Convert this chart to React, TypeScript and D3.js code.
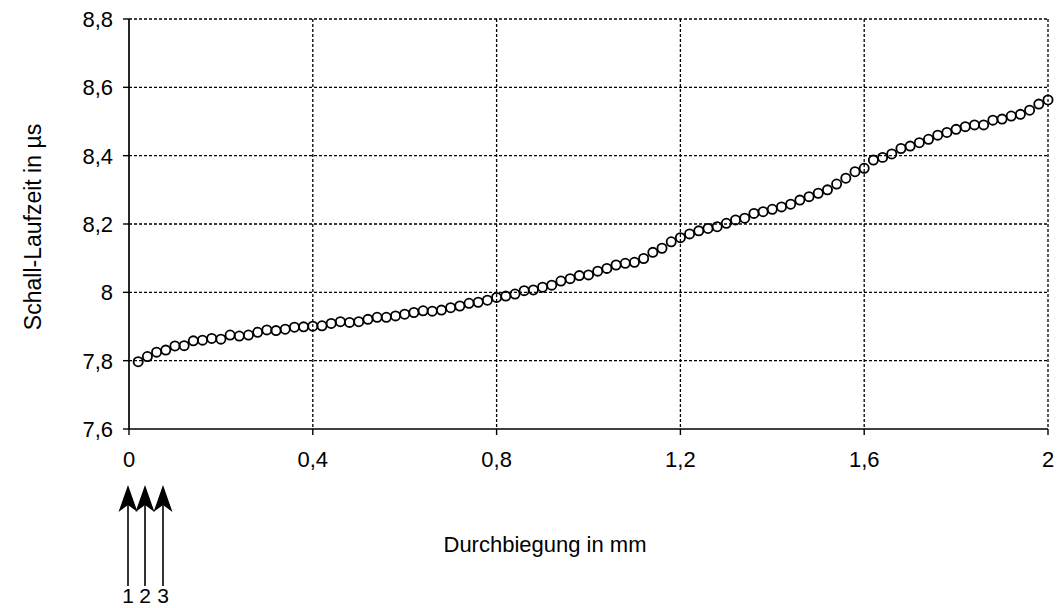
import React from "react";
import * as d3 from "d3";

// Deflection (mm) and sound travel time (µs) measurements
const deflection: number[] = [
  0.02, 0.04, 0.06, 0.08, 0.10, 0.12, 0.14, 0.16, 0.18, 0.20,
  0.22, 0.24, 0.26, 0.28, 0.30, 0.32, 0.34, 0.36, 0.38, 0.40,
  0.42, 0.44, 0.46, 0.48, 0.50, 0.52, 0.54, 0.56, 0.58, 0.60,
  0.62, 0.64, 0.66, 0.68, 0.70, 0.72, 0.74, 0.76, 0.78, 0.80,
  0.82, 0.84, 0.86, 0.88, 0.90, 0.92, 0.94, 0.96, 0.98, 1.00,
  1.02, 1.04, 1.06, 1.08, 1.10, 1.12, 1.14, 1.16, 1.18, 1.20,
  1.22, 1.24, 1.26, 1.28, 1.30, 1.32, 1.34, 1.36, 1.38, 1.40,
  1.42, 1.44, 1.46, 1.48, 1.50, 1.52, 1.54, 1.56, 1.58, 1.60,
  1.62, 1.64, 1.66, 1.68, 1.70, 1.72, 1.74, 1.76, 1.78, 1.80,
  1.82, 1.84, 1.86, 1.88, 1.90, 1.92, 1.94, 1.96, 1.98, 2.00,
];

const travelTime: number[] = [
  7.797, 7.812, 7.825, 7.831, 7.843, 7.844, 7.858, 7.860, 7.865, 7.863,
  7.875, 7.872, 7.875, 7.883, 7.890, 7.888, 7.892, 7.898, 7.899, 7.901,
  7.902, 7.909, 7.914, 7.912, 7.914, 7.921, 7.927, 7.927, 7.931, 7.936,
  7.941, 7.946, 7.945, 7.948, 7.955, 7.960, 7.968, 7.971, 7.977, 7.985,
  7.989, 7.995, 8.005, 8.007, 8.015, 8.021, 8.033, 8.040, 8.049, 8.051,
  8.062, 8.070, 8.080, 8.085, 8.088, 8.099, 8.117, 8.129, 8.148, 8.160,
  8.171, 8.180, 8.187, 8.192, 8.202, 8.212, 8.217, 8.231, 8.236, 8.243,
  8.250, 8.258, 8.270, 8.280, 8.290, 8.300, 8.317, 8.334, 8.353, 8.363,
  8.387, 8.395, 8.405, 8.421, 8.428, 8.438, 8.448, 8.460, 8.468, 8.477,
  8.485, 8.490, 8.490, 8.504, 8.507, 8.516, 8.521, 8.533, 8.551, 8.563,
];

const xTicks: number[] = [0, 0.4, 0.8, 1.2, 1.6, 2];
const xTickLabels: string[] = ["0", "0,4", "0,8", "1,2", "1,6", "2"];
const yTicks: number[] = [7.6, 7.8, 8.0, 8.2, 8.4, 8.6, 8.8];
const yTickLabels: string[] = ["7,6", "7,8", "8", "8,2", "8,4", "8,6", "8,8"];

// Sensor markers below the x axis
const sensorLabels: string[] = ["1", "2", "3"];

const W = 1061;
const H = 608;
const left = 129;
const right = 1048;
const top = 19;
const bottom = 429;
const FONT = "'Liberation Sans', Arial, Helvetica, sans-serif";

export default function App() {
  const x = d3.scaleLinear().domain([0, 2]).range([left, right]);
  const y = d3.scaleLinear().domain([7.6, 8.8]).range([bottom, top]);

  const sensorX = [128, 145, 163];
  const arrowTip = 485;
  const arrowBase = 512;
  const arrowNotch = 505;
  const lineEnd = 586;

  return (
    <div style={{ position: "fixed", left: 0, top: 0, width: W, height: H, background: "#fff" }}>
      <svg width={W} height={H} style={{ display: "block" }} fontFamily={FONT}>
        <rect x={0} y={0} width={W} height={H} fill="#fff" />

        {/* dotted grid */}
        {yTicks.slice(1).map((t) => (
          <line key={"gy" + t} x1={left} x2={right} y1={y(t)} y2={y(t)}
            stroke="#000" strokeWidth={1.3} strokeDasharray="3,2" />
        ))}
        {xTicks.slice(1).map((t) => (
          <line key={"gx" + t} x1={x(t)} x2={x(t)} y1={top} y2={bottom}
            stroke="#000" strokeWidth={1.3} strokeDasharray="3,2" />
        ))}

        {/* axes */}
        <line x1={left} x2={left} y1={top} y2={bottom} stroke="#000" strokeWidth={1.7} />
        <line x1={left} x2={right} y1={bottom} y2={bottom} stroke="#000" strokeWidth={1.7} />

        {yTicks.map((t, i) => (
          <g key={"yt" + t}>
            <line x1={left - 6} x2={left} y1={y(t)} y2={y(t)} stroke="#000" strokeWidth={1.4} />
            <text x={113} y={y(t)} dy="0.36em" textAnchor="end" fontSize={22} fill="#000">
              {yTickLabels[i]}
            </text>
          </g>
        ))}
        {xTicks.map((t, i) => (
          <g key={"xt" + t}>
            <line x1={x(t)} x2={x(t)} y1={bottom} y2={bottom + 6} stroke="#000" strokeWidth={1.4} />
            <text x={x(t)} y={459} dy="0.36em" textAnchor="middle" fontSize={22} fill="#000">
              {xTickLabels[i]}
            </text>
          </g>
        ))}

        {/* axis titles */}
        <text x={545} y={544} dy="0.36em" textAnchor="middle" fontSize={22} fill="#000">
          Durchbiegung in mm
        </text>
        <text transform={`translate(33,227) rotate(-90)`} dy="0.36em" textAnchor="middle"
          fontSize={23} fill="#000">
          Schall-Laufzeit in µs
        </text>

        {/* measurements */}
        {deflection.map((d, i) => (
          <circle key={"p" + i} cx={x(d)} cy={y(travelTime[i])} r={4.6}
            fill="none" stroke="#000" strokeWidth={1.8} />
        ))}

        {/* sensor arrows */}
        {sensorX.map((sx, i) => (
          <g key={"s" + i}>
            <line x1={sx} x2={sx} y1={arrowNotch} y2={lineEnd} stroke="#000" strokeWidth={1.6} />
            <path
              d={`M${sx},${arrowTip} L${sx - 9.5},${arrowBase} L${sx},${arrowNotch} L${sx + 9.5},${arrowBase} Z`}
              fill="#000" />
            <text x={sx} y={603} textAnchor="middle" fontSize={21} fill="#000">
              {sensorLabels[i]}
            </text>
          </g>
        ))}
      </svg>
    </div>
  );
}
